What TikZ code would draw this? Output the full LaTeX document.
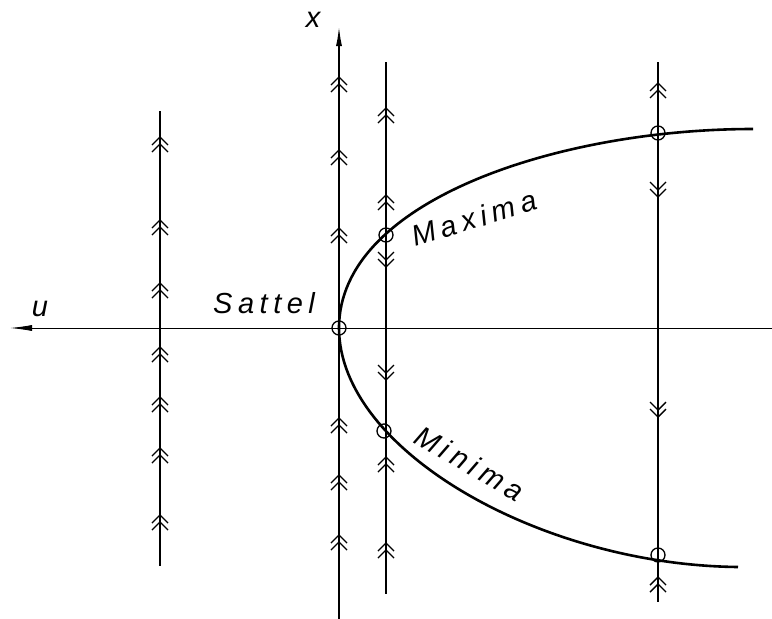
\documentclass[tikz,border=0pt]{standalone}
\usepackage{fontspec}
\setmainfont{Liberation Sans}
\newfontfamily\lettering[LetterSpace=19]{Liberation Sans}
\usetikzlibrary{arrows.meta}
\tikzset{
  axis/.style={line width=0.9pt},
  traj/.style={line width=1.3pt},
  branch/.style={line width=2.6pt},
  fix/.style={draw,circle,minimum size=14pt,inner sep=0pt,line width=1.3pt}, % equilibrium
  lbl/.style={font=\lettering\itshape\fontsize{29}{34}\selectfont,inner sep=0pt},
  chevup/.pic={\draw[line width=1.4pt] (-8,8)--(0,0)--(8,8) (-8,15)--(0,7)--(8,15);},
  chevdn/.pic={\draw[line width=1.4pt] (-8,-8)--(0,0)--(8,-8) (-8,-15)--(0,-7)--(8,-15);},
}
\begin{document}
\begin{tikzpicture}[x=1pt,y=-1pt]
  \useasboundingbox (0,0) rectangle (772,619);
  % ---- axes ----
  \coordinate (ur) at (772,328);
  \coordinate (ul) at (10,328);
  \coordinate (xb) at (339,619);
  \coordinate (xt) at (339,26);
  \draw[axis,-{Latex[length=22pt,width=6pt]}] (ur) -- (ul);
  \draw[line width=1.7pt,-{Latex[length=20pt,width=6pt]}] (xb) -- (xt);
  \node[lbl] (ulab) at (40,309) {u};
  \node[lbl] (xlab) at (313,20) {x};

  % ---- trajectories u = const ----
  \coordinate (l1t) at (160,111); \coordinate (l1b) at (160,566);
  \coordinate (l2t) at (386,62);  \coordinate (l2b) at (386,594);
  \coordinate (l3t) at (658,62);  \coordinate (l3b) at (658,602);
  \draw[traj,line width=1.6pt] (l1t) -- (l1b);
  \draw[traj] (l2t) -- (l2b);
  \draw[traj] (l3t) -- (l3b);

  % ---- flow direction ----
  \foreach \y in {137,220,283,347,397,448,515} \pic at (160,\y) {chevup};
  \foreach \y in {77,150,228,418,475,535} \pic at (339,\y) {chevup};
  \foreach \y in {108,195,457,543} \pic at (386,\y) {chevup};
  \foreach \y in {267,380} \pic at (386,\y) {chevdn};
  \foreach \y in {83,577} \pic at (658,\y) {chevup};
  \foreach \y in {197,417} \pic at (658,\y) {chevdn};

  % ---- branch of equilibria ----
  \coordinate (v)  at (339,328);
  \coordinate (ue) at (753,129);
  \coordinate (le) at (738,567);
  \draw[branch] (ue) .. controls (560,129) and (339,200) .. (v)
                     .. controls (339,450) and (540,565) .. (le);
  \node[fix] (sad) at (v) {};
  \node[fix] (max1) at (386,235) {};
  \node[fix] (max2) at (658,133) {};
  \node[fix] (min1) at (384,431) {};
  \node[fix] (min2) at (658,555) {};

  % ---- labels ----
  \node[lbl,anchor=base west] (sat) at (213,313) {Sattel};
  \node[lbl,anchor=base west,rotate=17] (mx) at (415,247) {Maxima};
  \node[lbl,anchor=base west,rotate=-30] (mn) at (412,442) {Minima};
\end{tikzpicture}
\end{document}
